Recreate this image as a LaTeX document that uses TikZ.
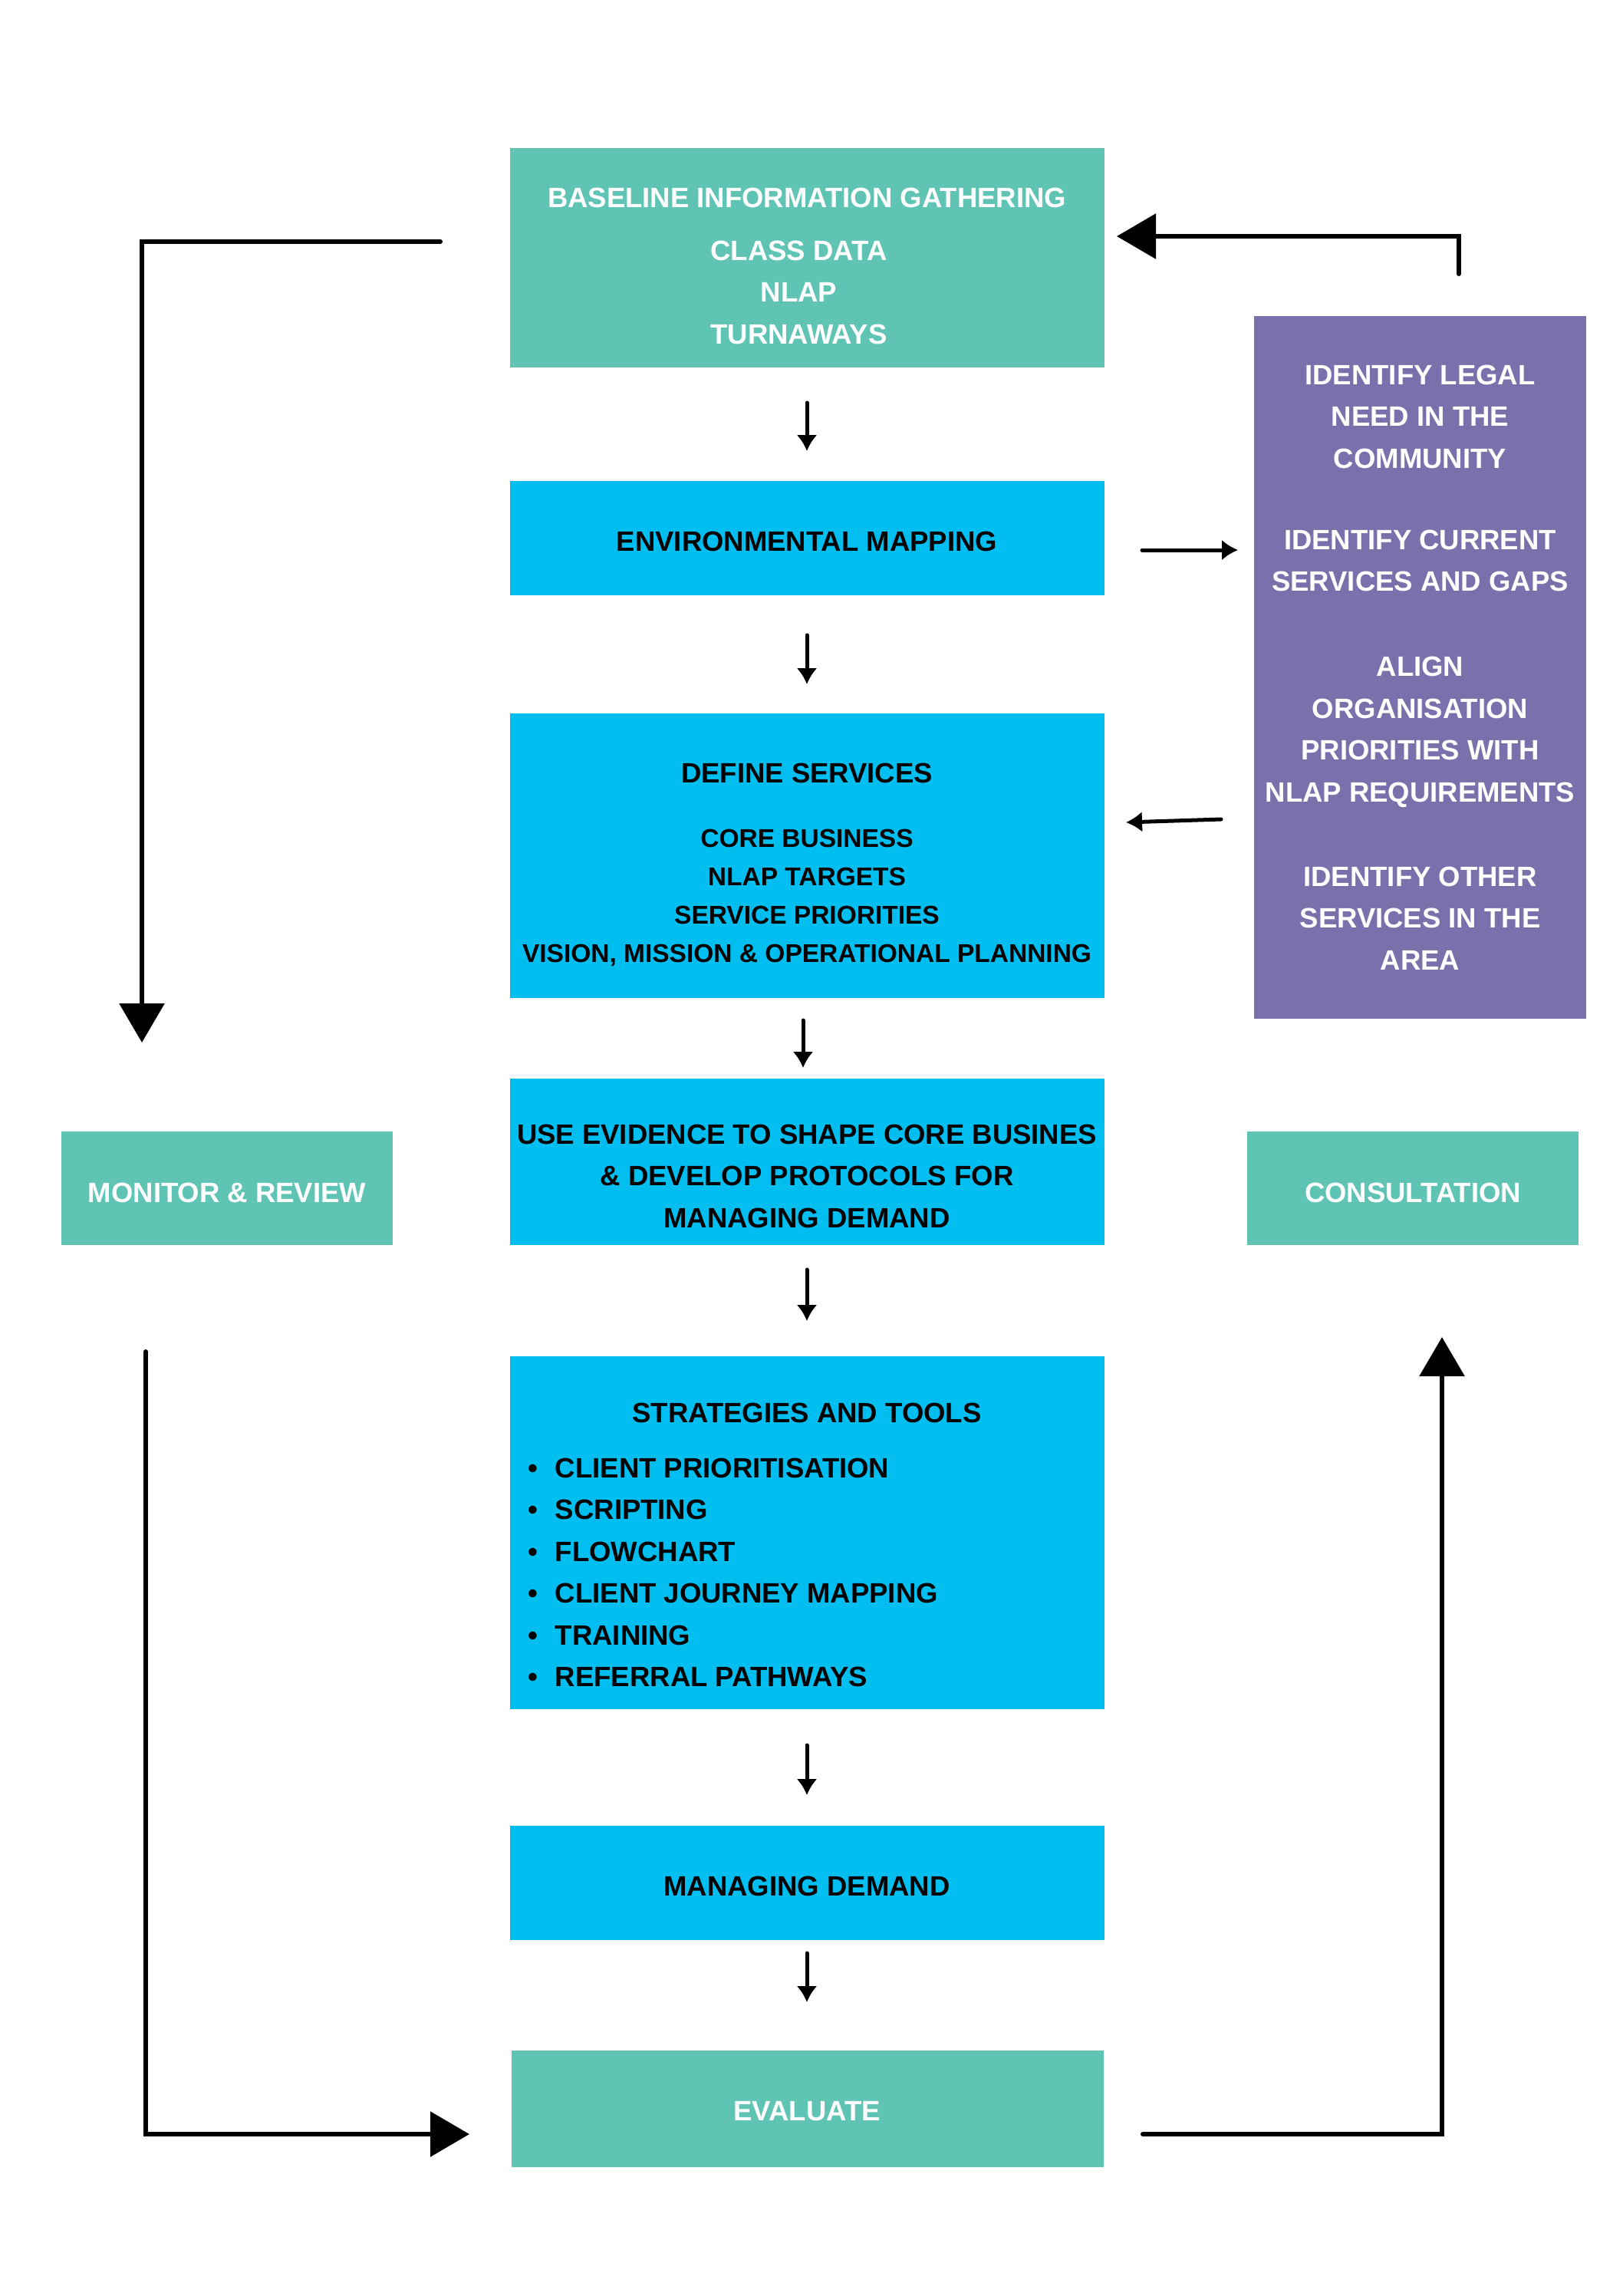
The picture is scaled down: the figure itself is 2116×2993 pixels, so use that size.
\documentclass[tikz,border=0pt]{standalone}
\usepackage{fontspec}
\setmainfont{Liberation Sans}
\usetikzlibrary{arrows.meta}
\definecolor{tealc}{RGB}{96,196,180}
\definecolor{cyanc}{RGB}{0,190,240}
\definecolor{purplec}{RGB}{122,112,172}
\tikzset{
  box/.style={rectangle, inner sep=0pt, draw=none, anchor=center},
  tealbox/.style={box, fill=tealc},
  cyanbox/.style={box, fill=cyanc},
  purplebox/.style={box, fill=purplec},
  txt/.style={inner sep=0pt, align=center, font=\fontsize{36.5}{54.5}\selectfont\bfseries},
  smalltxt/.style={inner sep=0pt, align=center, font=\fontsize{33.5}{50}\selectfont\bfseries},
  wtxt/.style={txt, text=white},
  btxt/.style={txt, text=black},
  bigline/.style={line width=6pt, line cap=round, line join=miter},
  bigarrow/.style={bigline, -{Triangle[length=51pt,width=58pt]}},
  smallarrow/.style={line width=5pt, line cap=round, -{Latex[length=21pt,width=27pt]}},
}
\begin{document}
\begin{tikzpicture}[x=1pt,y=-1pt]
\fill[white] (0,0) rectangle (2116,2993);
\useasboundingbox (0,0) rectangle (2116,2993);

% boxes
\node[tealbox, minimum width=775pt, minimum height=286pt] (b1) at (1052.5,336) {};
\node[cyanbox, minimum width=775pt, minimum height=149pt] (b2) at (1052.5,701.5) {};
\node[cyanbox, minimum width=775pt, minimum height=371pt] (b3) at (1052.5,1115.5) {};
\node[cyanbox, minimum width=775pt, minimum height=217pt] (b4) at (1052.5,1514.5) {};
\node[cyanbox, minimum width=775pt, minimum height=460pt] (b5) at (1052.5,1998) {};
\node[cyanbox, minimum width=775pt, minimum height=149pt] (b6) at (1052.5,2454.5) {};
\node[tealbox, minimum width=772pt, minimum height=152pt] (b7) at (1053,2749) {};
\node[tealbox, minimum width=432pt, minimum height=148pt] (mon) at (296,1549) {};
\node[tealbox, minimum width=432pt, minimum height=148pt] (con) at (1842,1549) {};
\node[purplebox, minimum width=433pt, minimum height=916pt] (pur) at (1851.5,870) {};

% texts
\node[wtxt] (t1) at (1052,346.5) {BASELINE INFORMATION GATHERING\\[14.5pt]
  CLASS DATA\hspace*{21pt}\mbox{}\\ NLAP\hspace*{21pt}\mbox{}\\ TURNAWAYS\hspace*{21pt}\mbox{}};
\node[btxt] (t2) at (1052,706) {ENVIRONMENTAL MAPPING};
\node[btxt] (t3a) at (1052,1008) {DEFINE SERVICES};
\node[smalltxt, text=black] (t3b) at (1052,1170) {CORE BUSINESS\\ NLAP TARGETS\\ SERVICE PRIORITIES\\
  VISION, MISSION \& OPERATIONAL PLANNING};
\node[btxt] (t4) at (1052,1533) {USE EVIDENCE TO SHAPE CORE BUSINES\\ \& DEVELOP PROTOCOLS FOR\\ MANAGING DEMAND};
\node[btxt] (t5a) at (1052,1842) {STRATEGIES AND TOOLS};
\node[btxt, align=left, anchor=west] (t5b) at (688,2050) {%
  \textbullet\hspace{23pt}CLIENT PRIORITISATION\\
  \textbullet\hspace{23pt}SCRIPTING\\
  \textbullet\hspace{23pt}FLOWCHART\\
  \textbullet\hspace{23pt}CLIENT JOURNEY MAPPING\\
  \textbullet\hspace{23pt}TRAINING\\
  \textbullet\hspace{23pt}REFERRAL PATHWAYS};
\node[btxt] (t6) at (1052,2459) {MANAGING DEMAND};
\node[wtxt] (t7) at (1052,2752) {EVALUATE};
\node[wtxt] (tm) at (296,1555) {MONITOR \& REVIEW};
\node[wtxt] (tc) at (1842,1555) {CONSULTATION};
\node[wtxt] (tp) at (1851.5,870) {IDENTIFY LEGAL\\ NEED IN THE\\ COMMUNITY\\[51.5pt]
  IDENTIFY CURRENT\\ SERVICES AND GAPS\\[56.5pt]
  ALIGN\\ ORGANISATION\\ PRIORITIES WITH\\ NLAP REQUIREMENTS\\[55.5pt]
  IDENTIFY OTHER\\ SERVICES IN THE\\ AREA};

% connector end points
\coordinate (a1s) at (1052,525);  \coordinate (a1e) at (1052,588);
\coordinate (a2s) at (1052,828);  \coordinate (a2e) at (1052,892);
\coordinate (a3s) at (1047,1330); \coordinate (a3e) at (1047,1392);
\coordinate (a4s) at (1052,1655); \coordinate (a4e) at (1052,1722);
\coordinate (a5s) at (1052,2275); \coordinate (a5e) at (1052,2340);
\coordinate (a6s) at (1052,2546); \coordinate (a6e) at (1052,2610);
\coordinate (e1s) at (1489,717);  \coordinate (e1e) at (1614,717);
\coordinate (p1s) at (1592,1068); \coordinate (p1e) at (1468,1072);

\coordinate (lt1) at (574,315); \coordinate (lt2) at (185,315); \coordinate (lt3) at (185,1359);
\coordinate (tr1) at (1902,357); \coordinate (tr2) at (1902,308); \coordinate (tr3) at (1456,308);
\coordinate (lb1) at (190,1762); \coordinate (lb2) at (190,2782); \coordinate (lb3) at (612,2782);
\coordinate (rb1) at (1490,2782); \coordinate (rb2) at (1880,2782); \coordinate (rb3) at (1880,1743);

% small arrows
\draw[smallarrow] (a1s) -- (a1e);
\draw[smallarrow] (a2s) -- (a2e);
\draw[smallarrow] (a3s) -- (a3e);
\draw[smallarrow] (a4s) -- (a4e);
\draw[smallarrow] (a5s) -- (a5e);
\draw[smallarrow] (a6s) -- (a6e);
\draw[smallarrow] (e1s) -- (e1e);
\draw[smallarrow] (p1s) -- (p1e);

% loop arrows
\draw[bigarrow] (lt1) -- (lt2) -- (lt3);
\draw[bigarrow] (tr1) -- (tr2) -- (tr3);
\draw[bigarrow] (lb1) -- (lb2) -- (lb3);
\draw[bigarrow] (rb1) -- (rb2) -- (rb3);
\end{tikzpicture}
\end{document}
